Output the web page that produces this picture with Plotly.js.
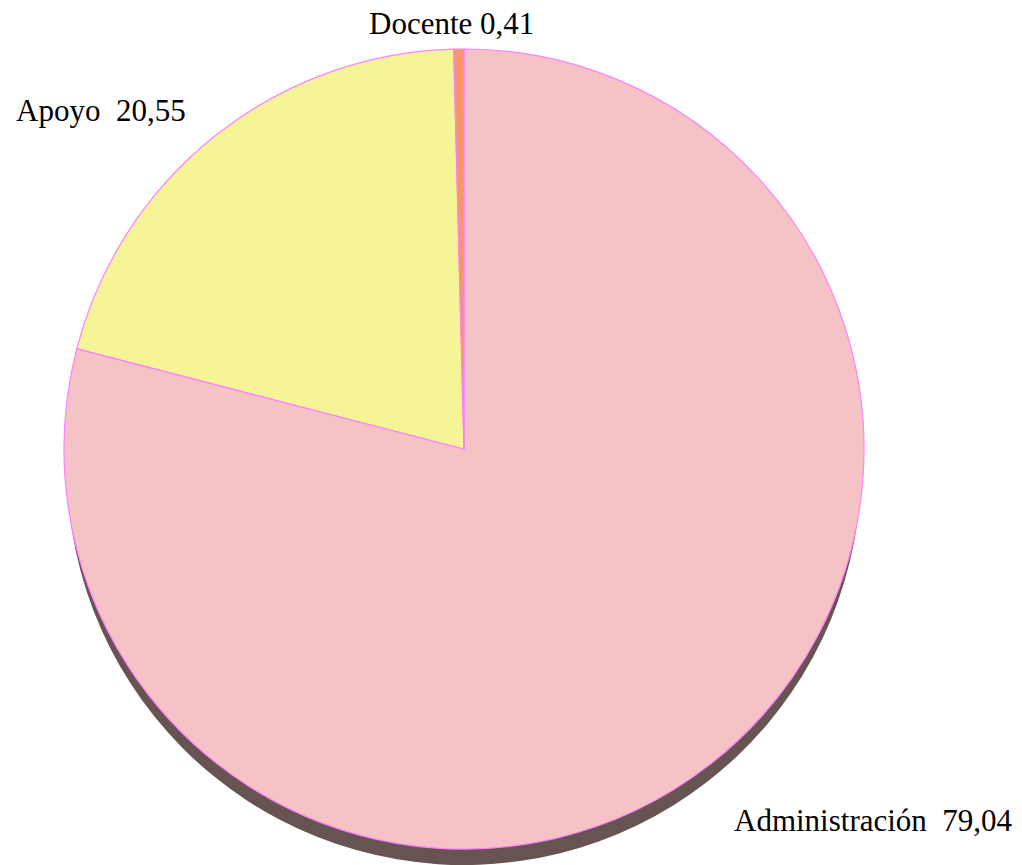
<!DOCTYPE html>
<html>
<head>
<meta charset="utf-8">
<script src="https://cdn.plot.ly/plotly-3.0.1.min.js"></script>
<style>
html,body{margin:0;padding:0;background:#fff;}
#chart{width:1022px;height:865px;}
#chart .annotation-text{font-family:"Liberation Serif","Times New Roman",serif !important;}
</style>
</head>
<body>
<div id="chart"></div>
<script>
const categories = ["Administración", "Apoyo", "Docente"];
const values = [79.04, 20.55, 0.41];
const valueLabels = ["79,04", "20,55", "0,41"];
const sliceColors = ["#F5C3C5", "#F5F597", "#F5976B"];
const shadowColors = ["#685353", "#685353", "#685353"];

const W = 1022, H = 865;
function px(x) { return x / W; }
function py(y) { return 1 - y / H; }

const cx = 464, cy = 449, r = 400;
const shadowCy = 468, shadowR = 397;

const shadowPie = {
  type: "pie", labels: categories, values: values, sort: false,
  direction: "clockwise", rotation: 0, textinfo: "none", hoverinfo: "skip",
  marker: { colors: shadowColors, line: { color: "#685353", width: 0 } },
  domain: { x: [px(cx - shadowR), px(cx + shadowR)], y: [py(shadowCy + shadowR), py(shadowCy - shadowR)] },
  showlegend: false
};
const facePie = {
  type: "pie", labels: categories, values: values, sort: false,
  direction: "clockwise", rotation: 0, textinfo: "none", hoverinfo: "label+value",
  marker: { colors: sliceColors, line: { color: "#FF80FF", width: 1.2 } },
  domain: { x: [px(cx - r), px(cx + r)], y: [py(cy + r), py(cy - r)] },
  showlegend: false
};

const serif = "'Liberation Serif', 'Times New Roman', serif";
const labelFont = { family: serif, size: 31, color: "#000" };
const annotations = [
  { text: categories[0] + "  " + valueLabels[0], x: px(732), y: py(820), xanchor: "left", yanchor: "middle" },
  { text: categories[1] + "  " + valueLabels[1], x: px(14), y: py(110), xanchor: "left", yanchor: "middle" },
  { text: categories[2] + " " + valueLabels[2], x: px(367), y: py(23), xanchor: "left", yanchor: "middle" }
].map(a => Object.assign({ xref: "paper", yref: "paper", showarrow: false, font: labelFont }, a));

Plotly.newPlot("chart", [shadowPie, facePie], {
  width: W, height: H,
  margin: { l: 0, r: 0, t: 0, b: 0 },
  paper_bgcolor: "#fff", plot_bgcolor: "#fff",
  showlegend: false,
  font: { family: serif },
  annotations: annotations
}, { displayModeBar: false, staticPlot: true });
</script>
</body>
</html>
